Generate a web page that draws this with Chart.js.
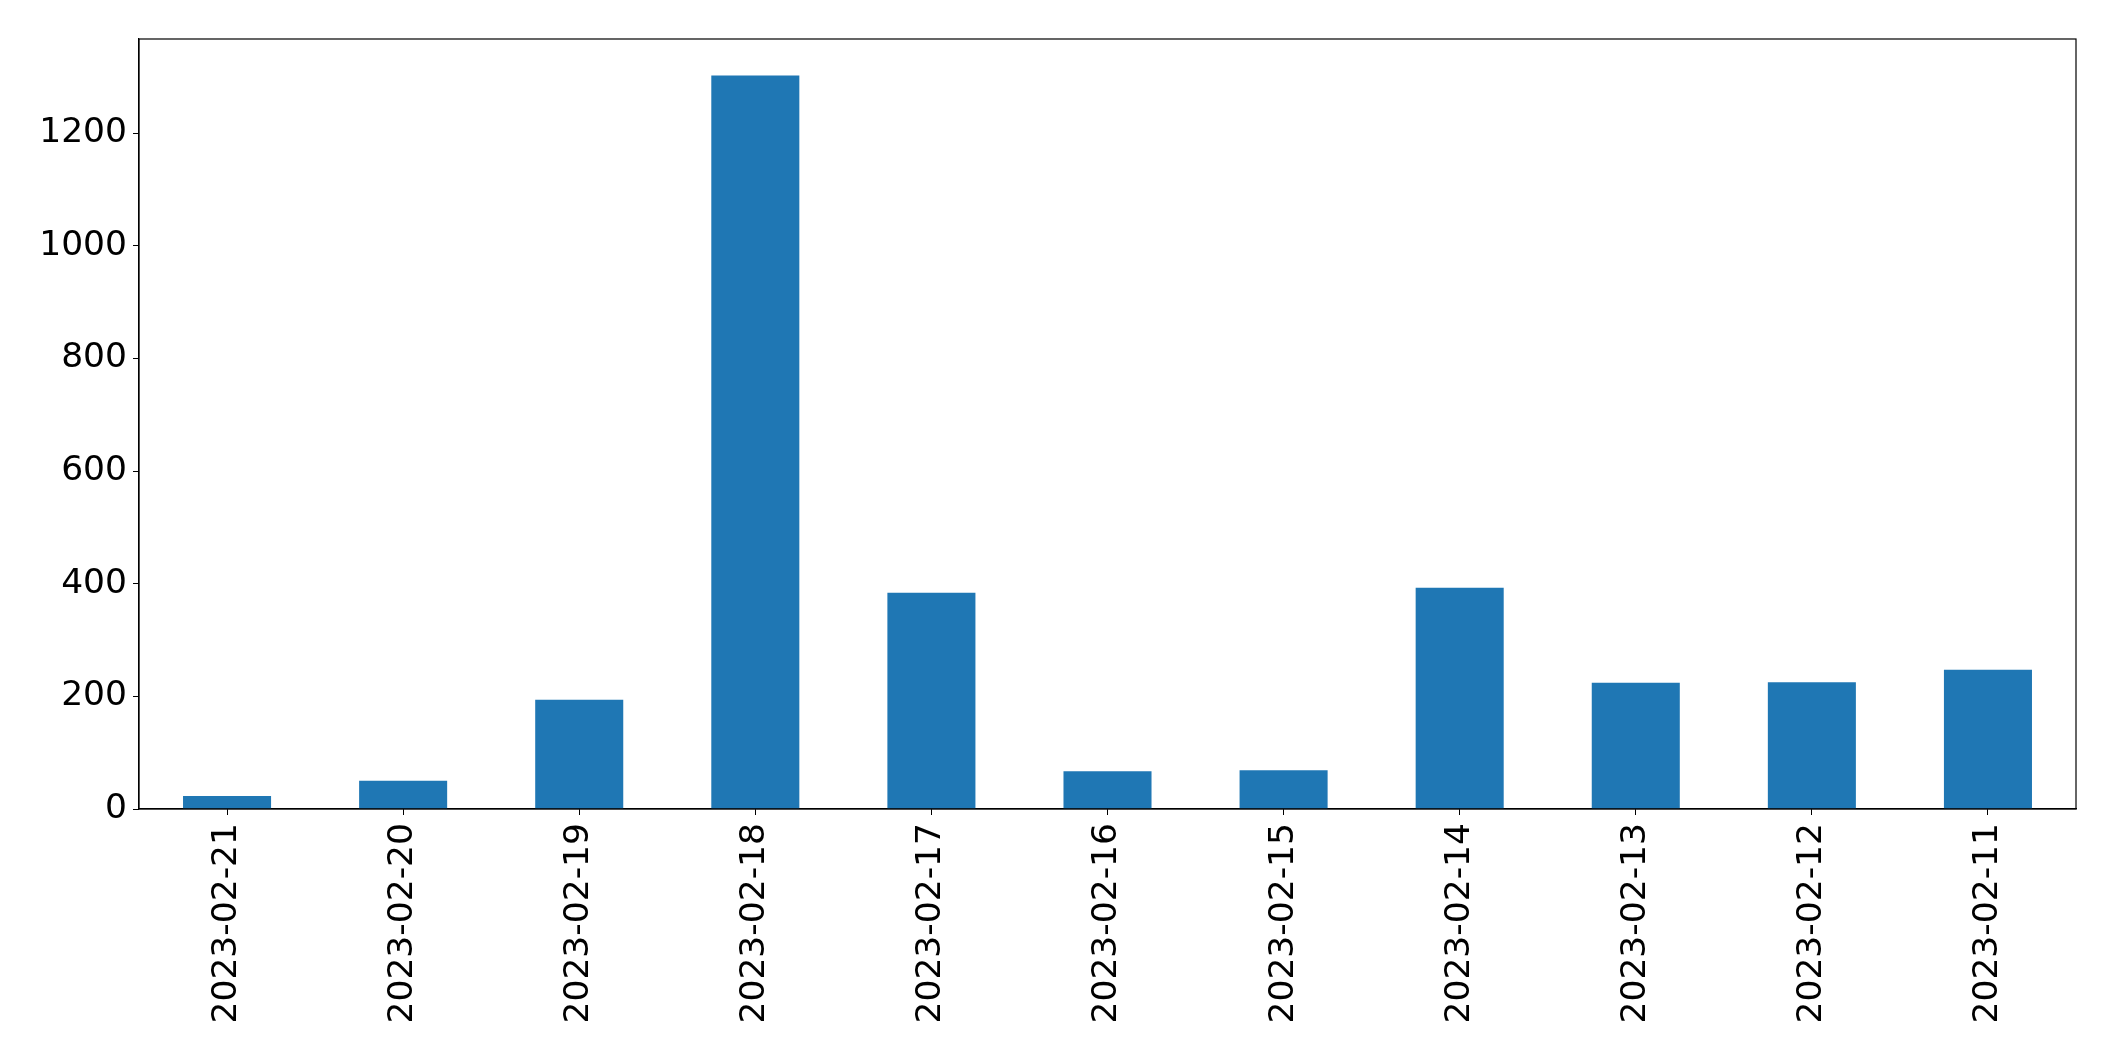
<!DOCTYPE html>
<html>
<head>
<meta charset="utf-8">
<script src="https://cdn.jsdelivr.net/npm/chart.js@4/dist/chart.umd.min.js"></script>
<style>
  html, body { margin: 0; padding: 0; background: #fff; }
  #wrap { width: 2115px; height: 1061px; }
</style>
</head>
<body>
<div id="wrap"><canvas id="chart" width="2115" height="1061"></canvas></div>
<script>
const dates = ['2023-02-21', '2023-02-20', '2023-02-19', '2023-02-18', '2023-02-17', '2023-02-16',
  '2023-02-15', '2023-02-14', '2023-02-13', '2023-02-12', '2023-02-11']
const counts = [23, 50, 194, 1302, 384, 67, 69, 393, 224, 225, 247]
const yTicks = [0, 200, 400, 600, 800, 1000, 1200]

const font = { family: 'DejaVu Sans', size: 34.5 }

// matplotlib style frame round the plot area
const frame = {
  id: 'frame',
  afterDraw(chart) {
    const { ctx, chartArea: a } = chart
    ctx.save()
    ctx.strokeStyle = '#000'
    ctx.lineWidth = 1.2
    ctx.strokeRect(a.left, a.top, a.right - a.left, a.bottom - a.top)
    ctx.restore()
  },
}

new Chart(document.getElementById('chart'), {
  type: 'bar',
  data: {
    labels: dates,
    datasets: [{
      data: counts,
      backgroundColor: '#1f77b4',
      barPercentage: 0.5,
      categoryPercentage: 1,
    }],
  },
  options: {
    responsive: false,
    animation: false,
    layout: { padding: { top: 39, right: 39, left: 0, bottom: 0 } },
    plugins: { legend: { display: false }, tooltip: { enabled: false } },
    scales: {
      x: {
        grid: { display: true, offset: false, drawOnChartArea: false, drawTicks: true, tickLength: 6, color: '#000' },
        border: { display: true, color: '#000', width: 1.2 },
        ticks: { font, color: '#000', minRotation: 90, maxRotation: 90, padding: 8, autoSkip: false },
        afterFit(s) { s.height = 1061 - 809 },
      },
      y: {
        min: 0,
        max: 1367,
        grid: { display: true, drawOnChartArea: false, drawTicks: true, tickLength: 6, color: '#000' },
        border: { display: true, color: '#000', width: 1.2 },
        ticks: { font, color: '#000', padding: 6, callback: v => String(v) },
        afterBuildTicks(s) { s.ticks = yTicks.map(v => ({ value: v })) },
        afterFit(s) { s.width = 139 },
      },
    },
  },
  plugins: [frame],
})
</script>
</body>
</html>
